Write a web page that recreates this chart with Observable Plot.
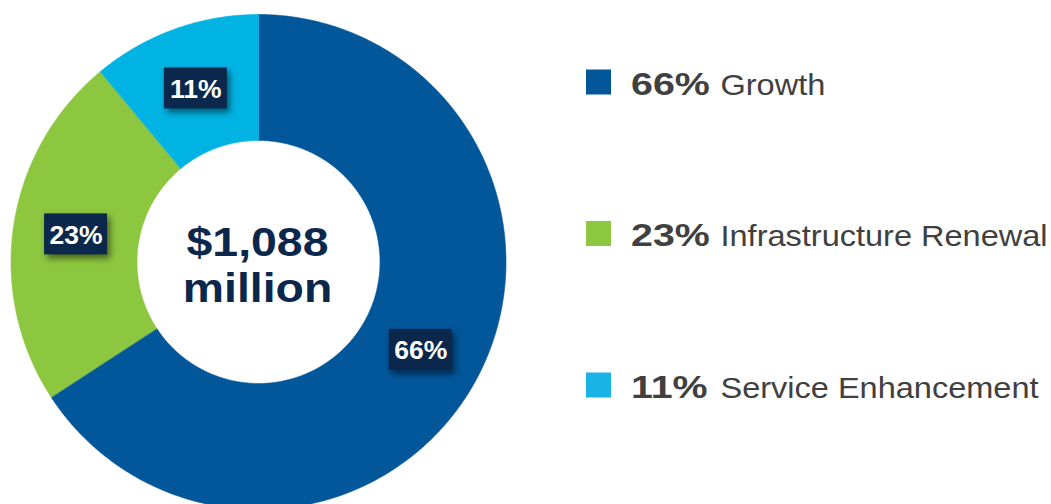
<!DOCTYPE html>
<html><head><meta charset="utf-8">
<script src="https://cdn.jsdelivr.net/npm/d3@7"></script>
<script src="https://cdn.jsdelivr.net/npm/@observablehq/plot@0.6"></script>
<style>html,body{margin:0;padding:0;background:#fff;overflow:hidden}</style>
</head><body><div id="chart"></div>
<script>
// ---- data ----
const categories = ["Growth", "Infrastructure Renewal", "Service Enhancement"];
const amounts = [716, 252, 120]; // $ millions
const sliceColors = ["#02569A", "#8DC63F", "#00B3E3"];
const legendColors = ["#02569A", "#8DC63F", "#19B3E6"];
const centerLines = ["$1,088", "million"];

// ---- layout ----
const W = 1051, H = 504;
const C = {x: 258, y: 261.5, R: 247.5, r: 121.5};
const FONT = "'Liberation Sans', Arial, Helvetica, sans-serif";
const NAVY = "#0B284C", GREY = "#404040";
const legend = {top: 82, gap: 151.5, sw: 25, swX: 586, pctX: 630.5, nameX: 720};
const box = {w: 63, h: 41};

const total = d3.sum(amounts);
let acc = 0;
const slices = categories.map((name, i) => {
  const a0 = acc / total * 360; acc += amounts[i];
  const a1 = acc / total * 360;
  return {name, value: amounts[i], color: sliceColors[i], a0, a1,
          pct: Math.round(amounts[i] / total * 100) + "%"};
});
const pt = (deg, rad) => {
  const t = deg * Math.PI / 180;
  return [C.x + rad * Math.sin(t), C.y - rad * Math.cos(t)];
};
const ringPts = [];
for (const s of slices) {
  const n = Math.max(2, Math.ceil((s.a1 - s.a0) / 0.5));
  const outer = d3.range(n + 1).map(k => pt(s.a0 + (s.a1 - s.a0) * k / n, C.R));
  const inner = d3.range(n + 1).map(k => pt(s.a1 - (s.a1 - s.a0) * k / n, C.r));
  for (const [x, y] of [...outer, ...inner]) ringPts.push({name: s.name, color: s.color, x, y});
}
const labels = slices.map(s => {
  const [x, y] = pt((s.a0 + s.a1) / 2, (C.R + C.r) / 2);
  return {...s, x, y};
});
const rows = categories.map((name, i) => ({
  name, pct: slices[i].pct, color: legendColors[i], y: legend.top + i * legend.gap
}));
const centerRows = centerLines.map((t, i) => ({t, y: 255 + i * 46}));

const plot = Plot.plot({
  width: W, height: H, margin: 0,
  x: {domain: [0, W], range: [0, W], axis: null},
  y: {domain: [0, H], range: [0, H], axis: null},
  style: {fontFamily: FONT, background: "white"},
  marks: [
    Plot.line(ringPts, {x: "x", y: "y", z: "name", fill: "color", stroke: "color", strokeWidth: 0.6, curve: "linear-closed"}),
    Plot.rect(labels, {x1: d => d.x - box.w / 2, x2: d => d.x + box.w / 2, y1: d => d.y - box.h / 2, y2: d => d.y + box.h / 2,
      fill: NAVY, ariaDescription: "label-box"}),
    Plot.text(labels, {x: "x", y: d => d.y + 9.5, text: "pct", fill: "white", fontWeight: "bold", fontSize: 26,
      lineAnchor: "bottom", textAnchor: "middle", ariaDescription: "label-text"}),
    Plot.text(centerRows, {x: C.x - 1, y: "y", text: "t", fill: NAVY, fontWeight: "bold", fontSize: 40,
      lineAnchor: "bottom", textAnchor: "middle", ariaDescription: "center-text"}),
    Plot.rect(rows, {x1: legend.swX, x2: legend.swX + legend.sw, y1: d => d.y - legend.sw / 2, y2: d => d.y + legend.sw / 2, fill: "color"}),
    Plot.text(rows, {x: legend.pctX, y: d => d.y + 12, text: "pct", fill: GREY, fontWeight: "bold", fontSize: 31.5,
      lineAnchor: "bottom", textAnchor: "start", ariaDescription: "legend-pct"}),
    Plot.text(rows, {x: legend.nameX, y: d => d.y + 12, text: "name", fill: GREY, fontSize: 29.3,
      lineAnchor: "bottom", textAnchor: "start", ariaDescription: "legend-name"})
  ]
});
document.getElementById("chart").appendChild(plot);

// horizontal stretch of the typeface, matching the reference
const stretch = {"center-text": 1.16, "legend-pct": 1.25, "legend-name": 1.11, "label-text": 1.02};
for (const [k, s] of Object.entries(stretch)) {
  d3.select(plot).selectAll(`g[aria-description="${k}"] text`).each(function () {
    this.setAttribute("transform", (this.getAttribute("transform") || "") + ` scale(${s},1)`);
  });
}
d3.select(plot).selectAll('g[aria-description="label-box"]').style("filter", "drop-shadow(3px 4px 3px rgba(0,0,0,0.5))");
</script></body></html>
